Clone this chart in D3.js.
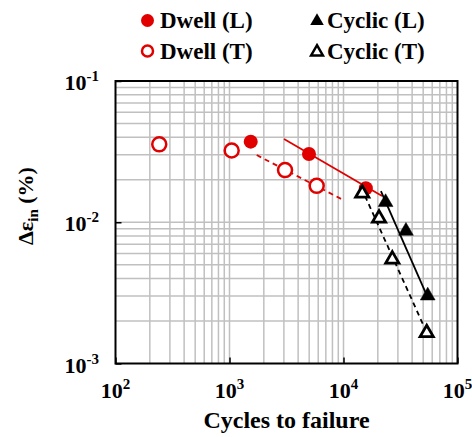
<!DOCTYPE html>
<html><head><meta charset="utf-8">
<script src="https://cdn.jsdelivr.net/npm/d3@7/dist/d3.min.js"></script>
</head><body style="margin:0;padding:0;background:#fff">
<script>
// ---- data ----
const dwellL_N = [1535, 4980, 15700];
const dwellL_e = [0.0372, 0.0304, 0.0174];
const dwellT_N = [242, 1045, 3070, 5820];
const dwellT_e = [0.0356, 0.0322, 0.0234, 0.0181];
const cyclicL_N = [23400, 35300, 54800];
const cyclicL_e = [0.01384, 0.00867, 0.00302];
const cyclicT_N = [14600, 20500, 26800, 53700];
const cyclicT_e = [0.0160, 0.01067, 0.00547, 0.00165];
// fitted trend lines (endpoints)
const fitDwellL = [[3008, 0.0388], [21800, 0.01535]];
const fitDwellT = [[1733, 0.0299], [9950, 0.01437]];
const fitCyclicL = [[21300, 0.01663], [55000, 0.00291]];
const fitCyclicT = [[15450, 0.01534], [50100, 0.001875]];
const xTickExp = [2, 3, 4, 5];
const yTickExp = [-1, -2, -3];
const legendLabels = ["Dwell (L)", "Dwell (T)", "Cyclic (L)", "Cyclic (T)"];

const W = 472, H = 437;
const m = {left: 115.5, right: 457.5, top: 81, bottom: 363.5};
const RED = "#e00000";
const FONT = "Liberation Serif";

const svg = d3.select("body").append("svg").attr("width", W).attr("height", H)
  .attr("font-family", FONT).style("font-family", FONT);
const x = d3.scaleLog().domain([1e2, 1e5]).range([m.left, m.right]);
const y = d3.scaleLog().domain([1e-3, 1e-1]).range([m.bottom, m.top]);

function txt(sel, size) {
  return sel.append("text").attr("font-family", FONT).style("font-family", FONT)
    .style("font-weight", "bold").attr("font-size", size);
}

// grid
const gx = [], gy = [];
for (let e = 2; e < 5; e++) for (let k = 1; k <= 9; k++) if (!(e === 2 && k === 1)) gx.push(k * Math.pow(10, e));
for (let e = -3; e < -1; e++) for (let k = 1; k <= 9; k++) if (!(e === -3 && k === 1)) gy.push(k * Math.pow(10, e));
svg.append("g").selectAll("line").data(gx).join("line")
  .attr("x1", d => x(d)).attr("x2", d => x(d)).attr("y1", m.top).attr("y2", m.bottom)
  .attr("stroke", "#c0c0c0").attr("stroke-width", 1.5);
svg.append("g").selectAll("line").data(gy).join("line")
  .attr("y1", d => y(d)).attr("y2", d => y(d)).attr("x1", m.left).attr("x2", m.right)
  .attr("stroke", "#c0c0c0").attr("stroke-width", 1.5);

// axes with inward ticks
const xAxis = d3.axisBottom(x).tickValues(xTickExp.map(e => Math.pow(10, e))).tickSize(-6).tickFormat("");
const yAxis = d3.axisLeft(y).tickValues(yTickExp.map(e => Math.pow(10, e))).tickSize(-6).tickFormat("");
const ga = svg.append("g").attr("transform", `translate(0,${m.bottom})`).call(xAxis);
const gb = svg.append("g").attr("transform", `translate(${m.left},0)`).call(yAxis);
[ga, gb].forEach(g => {
  g.select(".domain").remove();
  g.attr("font-family", FONT);
  g.selectAll("line").attr("stroke", "#000").attr("stroke-width", 1.5);
});

// border
svg.append("rect").attr("x", m.left).attr("y", m.top).attr("width", m.right - m.left).attr("height", m.bottom - m.top)
  .attr("fill", "none").attr("stroke", "#000").attr("stroke-width", 2);

// tick labels
xTickExp.forEach(e => {
  const t = txt(svg, 22).attr("x", x(Math.pow(10, e))).attr("y", m.bottom + 34).attr("text-anchor", "middle");
  t.append("tspan").text("10");
  t.append("tspan").attr("dy", -9).attr("font-size", 15).text(e);
});
yTickExp.forEach(e => {
  const t = txt(svg, 22).attr("x", 99).attr("y", y(Math.pow(10, e)) + 9).attr("text-anchor", "end");
  t.append("tspan").text("10");
  t.append("tspan").attr("dy", -9).attr("font-size", 15).text(e);
});

// axis titles
txt(svg, 24).attr("x", (m.left + m.right) / 2).attr("y", 428).attr("text-anchor", "middle").text("Cycles to failure");
const yt = txt(svg, 22).attr("transform", "translate(33,206) rotate(-90)").attr("text-anchor", "middle");
yt.append("tspan").text("\u0394\u03b5");
yt.append("tspan").attr("dy", 5).attr("font-size", 15).text("in");
yt.append("tspan").attr("dy", -5).text(" (%)");

// fit lines
const line = d3.line().x(d => x(d[0])).y(d => y(d[1]));
svg.append("path").attr("d", line(fitDwellL)).attr("stroke", RED).attr("stroke-width", 1.8).attr("fill", "none");
svg.append("path").attr("d", line(fitDwellT)).attr("stroke", RED).attr("stroke-width", 1.8).attr("stroke-dasharray", "5,4").attr("fill", "none");
svg.append("path").attr("d", line(fitCyclicL)).attr("stroke", "#000").attr("stroke-width", 1.8).attr("fill", "none");
svg.append("path").attr("d", line(fitCyclicT)).attr("stroke", "#000").attr("stroke-width", 1.8).attr("stroke-dasharray", "5,4").attr("fill", "none");

// markers
const tri = d3.symbol().type(d3.symbolTriangle);
function filledCircles(N, E) {
  svg.append("g").selectAll("circle").data(N).join("circle")
    .attr("cx", d => x(d)).attr("cy", (d, i) => y(E[i])).attr("r", 7).attr("fill", RED);
}
function openCircles(N, E) {
  svg.append("g").selectAll("circle").data(N).join("circle")
    .attr("cx", d => x(d)).attr("cy", (d, i) => y(E[i])).attr("r", 7).attr("fill", "#fff").attr("stroke", RED).attr("stroke-width", 2.5);
}
function triangles(N, E, open) {
  svg.append("g").selectAll("path").data(N).join("path")
    .attr("d", tri.size(open ? 75 : 95)())
    .attr("transform", (d, i) => `translate(${x(d)},${y(E[i])})`)
    .attr("fill", open ? "#fff" : "#000").attr("stroke", "#000").attr("stroke-width", open ? 2.8 : 0.5)
    .attr("stroke-linejoin", "miter");
}
openCircles(dwellT_N, dwellT_e);
filledCircles(dwellL_N, dwellL_e);
triangles(cyclicL_N, cyclicL_e, false);
triangles(cyclicT_N, cyclicT_e, true);

// legend
const lg = svg.append("g");
lg.append("circle").attr("cx", 147.5).attr("cy", 20.5).attr("r", 6.5).attr("fill", RED);
lg.append("circle").attr("cx", 147.5).attr("cy", 51).attr("r", 5.5).attr("fill", "#fff").attr("stroke", RED).attr("stroke-width", 2.5);
lg.append("path").attr("d", tri.size(80)()).attr("transform", "translate(317,21)").attr("fill", "#000");
lg.append("path").attr("d", tri.size(60)()).attr("transform", "translate(317,52)").attr("fill", "#fff").attr("stroke", "#000").attr("stroke-width", 2.5);
txt(lg, 23).attr("x", 160).attr("y", 28).text(legendLabels[0]);
txt(lg, 23).attr("x", 160).attr("y", 59).text(legendLabels[1]);
txt(lg, 23).attr("x", 327).attr("y", 28).text(legendLabels[2]);
txt(lg, 23).attr("x", 327).attr("y", 59).text(legendLabels[3]);
</script>
</body></html>
